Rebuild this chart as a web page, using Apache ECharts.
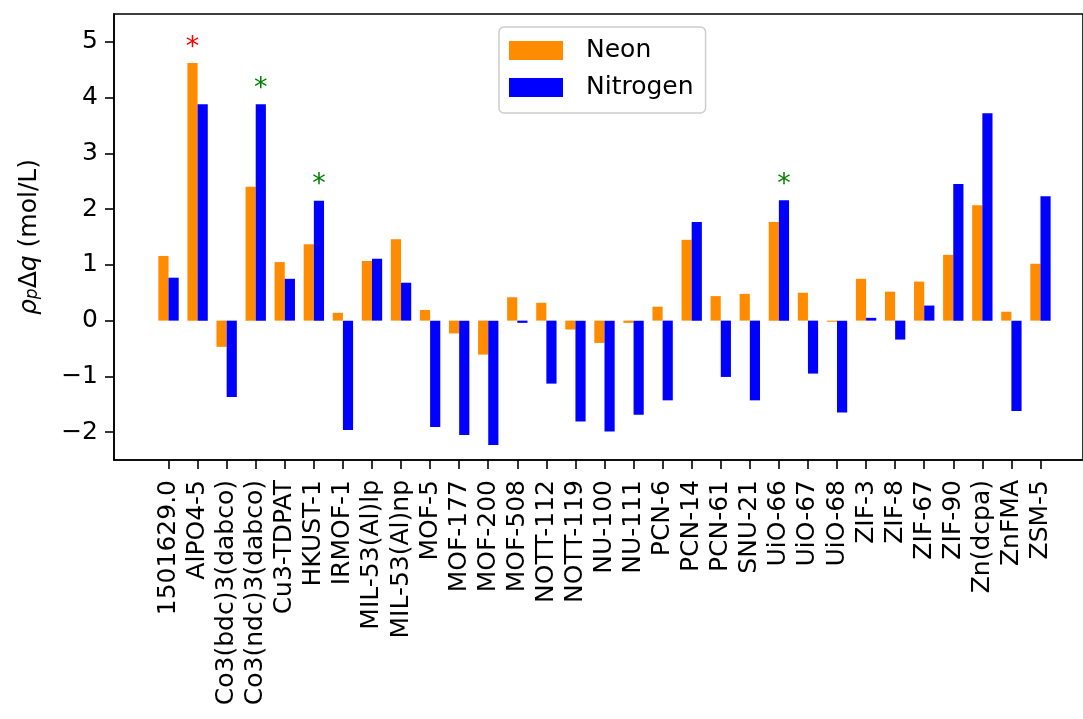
<!DOCTYPE html>
<html>
<head>
<meta charset="utf-8">
<script src="https://cdn.jsdelivr.net/npm/echarts@6/dist/echarts.min.js"></script>
<style>
  html, body { margin: 0; padding: 0; background: #fff; }
  #chart { width: 1083px; height: 719px; }
</style>
</head>
<body>
<div id="chart"></div>
<script>
// Materials, one group of two bars each
const categories = ['1501629.0', 'AlPO4-5', 'Co3(bdc)3(dabco)', 'Co3(ndc)3(dabco)', 'Cu3-TDPAT',
  'HKUST-1', 'IRMOF-1', 'MIL-53(Al)lp', 'MIL-53(Al)np', 'MOF-5', 'MOF-177', 'MOF-200', 'MOF-508',
  'NOTT-112', 'NOTT-119', 'NU-100', 'NU-111', 'PCN-6', 'PCN-14', 'PCN-61', 'SNU-21', 'UiO-66',
  'UiO-67', 'UiO-68', 'ZIF-3', 'ZIF-8', 'ZIF-67', 'ZIF-90', 'Zn(dcpa)', 'ZnFMA', 'ZSM-5'];

// Deliverable capacity rho_p * delta q (mol/L)
const neon = [1.16, 4.62, -0.47, 2.40, 1.05, 1.37, 0.14, 1.07, 1.46, 0.19, -0.23, -0.61, 0.42,
  0.32, -0.16, -0.40, -0.04, 0.25, 1.45, 0.44, 0.48, 1.77, 0.50, -0.02, 0.75, 0.52, 0.70,
  1.18, 2.07, 0.16, 1.02];
const nitrogen = [0.77, 3.88, -1.37, 3.88, 0.75, 2.15, -1.96, 1.11, 0.68, -1.91, -2.05, -2.23, -0.04,
  -1.13, -1.81, -1.99, -1.69, -1.43, 1.77, -1.01, -1.43, 2.16, -0.95, -1.65, 0.05, -0.34, 0.27,
  2.45, 3.72, -1.62, 2.23];

// Materials flagged with an asterisk above the bar
const starredNeon = ['AlPO4-5'];
const starredNitrogen = ['Co3(ndc)3(dabco)', 'HKUST-1', 'UiO-66'];

const yTicks = [-2, -1, 0, 1, 2, 3, 4, 5];
const yRange = [-2.5, 5.5];

const FONT = 'DejaVu Sans';
const FS = 25;

function starLabel(color) {
  return {
    show: true, position: 'top', distance: 2, formatter: '*',
    color: color, fontFamily: FONT, fontSize: 27
  };
}

function withStars(values, starred, color) {
  return values.map((v, i) => starred.includes(categories[i])
    ? { value: v, label: starLabel(color) } : v);
}

const chart = echarts.init(document.getElementById('chart'), null, { renderer: 'canvas' });

const axisLine = { show: true, onZero: false, lineStyle: { color: '#000', width: 1.6 } };

chart.setOption({
  animation: false,
  backgroundColor: '#fff',
  textStyle: { fontFamily: FONT },
  grid: [
    // frame of the axes
    { left: 114, right: -13, top: 14, bottom: 259, show: true, borderColor: '#000', borderWidth: 1.6,
      backgroundColor: 'transparent' },
    // band area holding the bar groups
    { left: 154, right: 28, top: 14, bottom: 259 }
  ],
  xAxis: [
    { gridIndex: 0, type: 'value', min: 0, max: 1, axisLine: axisLine, axisTick: { show: false },
      axisLabel: { show: false }, splitLine: { show: false } },
    { gridIndex: 1, type: 'category', data: categories, boundaryGap: true,
      axisLine: { show: false, onZero: false },
      axisTick: { show: true, alignWithLabel: true, length: 9, lineStyle: { color: '#000', width: 1.6 } },
      axisLabel: { interval: 0, rotate: 90, margin: 20, color: '#000', fontFamily: FONT, fontSize: FS },
      splitLine: { show: false } }
  ],
  yAxis: [
    { gridIndex: 0, type: 'value', min: yRange[0], max: yRange[1],
      axisLine: axisLine,
      axisTick: { show: true, length: 9, customValues: yTicks, lineStyle: { color: '#000', width: 1.6 } },
      axisLabel: { customValues: yTicks, margin: 16, color: '#000', fontFamily: FONT, fontSize: FS,
        formatter: v => String(v).replace('-', '\u2212') },
      splitLine: { show: false } },
    { gridIndex: 1, type: 'value', min: yRange[0], max: yRange[1], show: false, splitLine: { show: false } }
  ],
  legend: {
    data: ['Neon', 'Nitrogen'],
    orient: 'vertical',
    left: 499, top: 27,
    icon: 'rect',
    itemWidth: 54, itemHeight: 19, itemGap: 12,
    padding: [11, 12, 13, 10],
    borderColor: '#cccccc', borderWidth: 1.5, borderRadius: 5,
    backgroundColor: '#fff',
    textStyle: { color: '#000', fontFamily: FONT, fontSize: FS, padding: [0, 0, 0, 18] }
  },
  series: [
    { name: 'Neon', type: 'bar', xAxisIndex: 1, yAxisIndex: 1,
      barWidth: '35%', barGap: '0%', itemStyle: { color: '#ff8c00' },
      data: withStars(neon, starredNeon, '#ff0000') },
    { name: 'Nitrogen', type: 'bar', xAxisIndex: 1, yAxisIndex: 1,
      barWidth: '35%', barGap: '0%', itemStyle: { color: '#0000ff' },
      data: withStars(nitrogen, starredNitrogen, '#008000') }
  ],
  graphic: [
    { type: 'text', x: 29, y: 237, rotation: Math.PI / 2,
      style: {
        text: '{i|\u03c1}{s|p}{n|\u0394}{i|q}{n| (mol/L)}',
        align: 'center', verticalAlign: 'middle', fill: '#000',
        rich: {
          i: { fontFamily: FONT, fontSize: 25, fontStyle: 'italic', fill: '#000' },
          s: { fontFamily: FONT, fontSize: 17, fontStyle: 'italic', fill: '#000', verticalAlign: 'bottom' },
          n: { fontFamily: FONT, fontSize: 25, fill: '#000' }
        }
      } }
  ]
});
</script>
</body>
</html>
